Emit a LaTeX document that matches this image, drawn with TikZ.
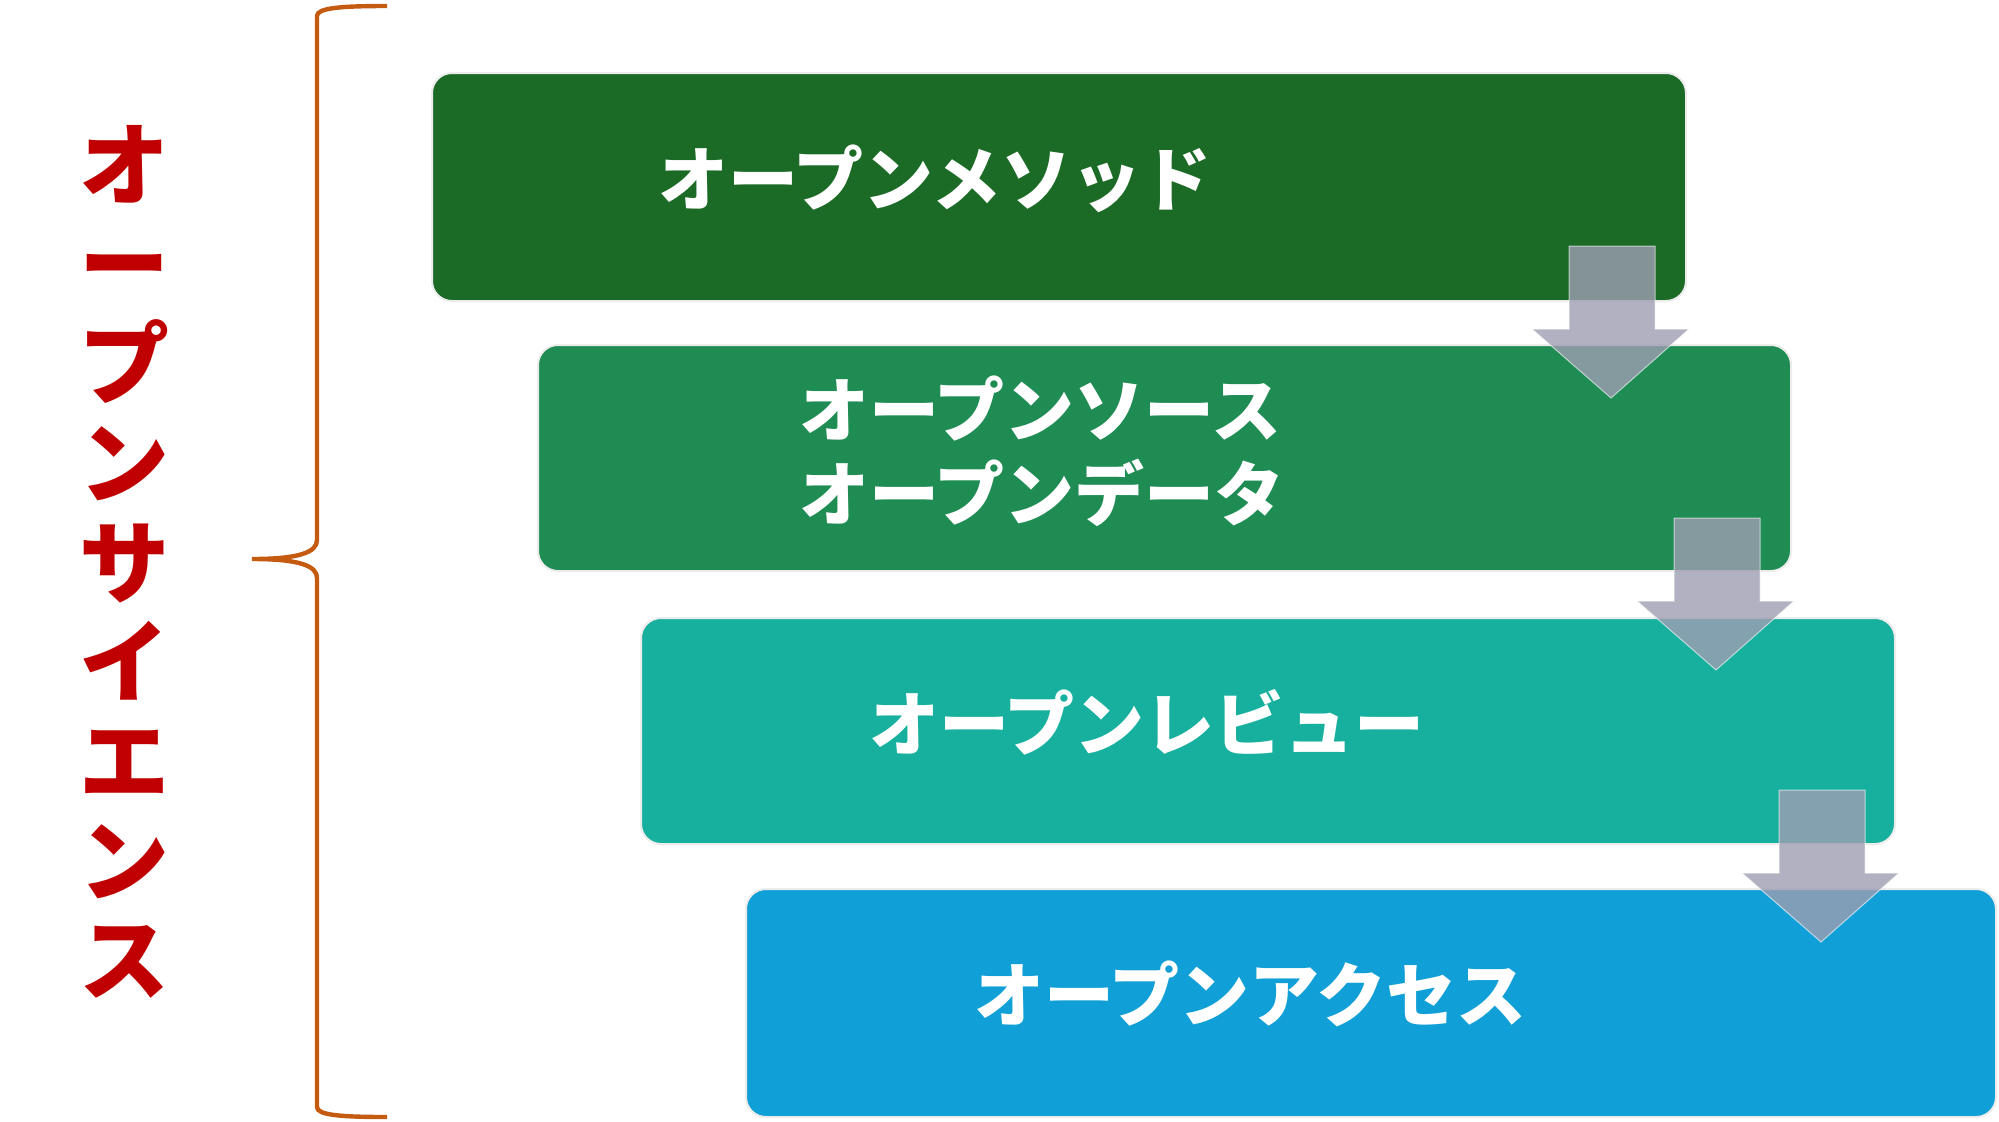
\documentclass[tikz,border=0pt]{standalone}
\usepackage{fontspec}
\newfontfamily\cjk{Noto Sans CJK JP}
\begin{document}
\begin{tikzpicture}[x=0.5pt,y=-0.5pt,
  box/.style={draw=white!85!gray,line width=1pt,rounded corners=10pt},
  lbl/.style={anchor=west,text=white,font=\cjk\bfseries\fontsize{35}{42}\selectfont},
  arr/.style={fill=white!80!blue!40!gray,fill opacity=0.8,draw=white,draw opacity=0.6,line width=0.5pt}]
\useasboundingbox (0,0) rectangle (1999,1121);
\fill[white] (0,0) rectangle (1999,1121);
\draw[box,fill={rgb,255:red,27;green,107;blue,38}] (432,73) rectangle (1686,301);
\draw[box,fill={rgb,255:red,30;green,140;blue,83}] (538,345) rectangle (1791,571);
\draw[box,fill={rgb,255:red,23;green,176;blue,158}] (641,618) rectangle (1895,844);
\draw[box,fill={rgb,255:red,16;green,159;blue,214}] (746,889) rectangle (1996,1117);
\node[lbl] (t1) at (651,179) {オープンメソッド};
\node[lbl,align=left] (t2) at (792,451) {オープンソース\\オープンデータ};
\node[lbl] (t3) at (862,722) {オープンレビュー};
\node[lbl] (t4) at (967,994) {オープンアクセス};
\foreach \i in {0,1,2}{
  \begin{scope}[shift={(105*\i,272*\i)}]
  \path[arr] (1569,246) -- (1655,246) -- (1655,329) -- (1689,329) -- (1611,398) -- (1532,329) -- (1569,329) -- cycle;
  \end{scope}}
\draw[line width=2.2pt,draw={rgb,255:red,197;green,90;blue,17}]
  (387,6) .. controls (340,6) and (317,8) .. (317,16) -- (317,540)
  .. controls (317,552) and (300,559) .. (252,559)
  .. controls (300,559) and (317,566) .. (317,578) -- (317,1107)
  .. controls (317,1115) and (340,1117) .. (387,1117);
\node[text={rgb,255:red,192;green,0;blue,0},align=center,font=\cjk\bfseries\fontsize{45}{49.7}\selectfont] (v) at (124,562)
  {オ\\ー\\プ\\ン\\サ\\イ\\エ\\ン\\ス};
\end{tikzpicture}
\end{document}
